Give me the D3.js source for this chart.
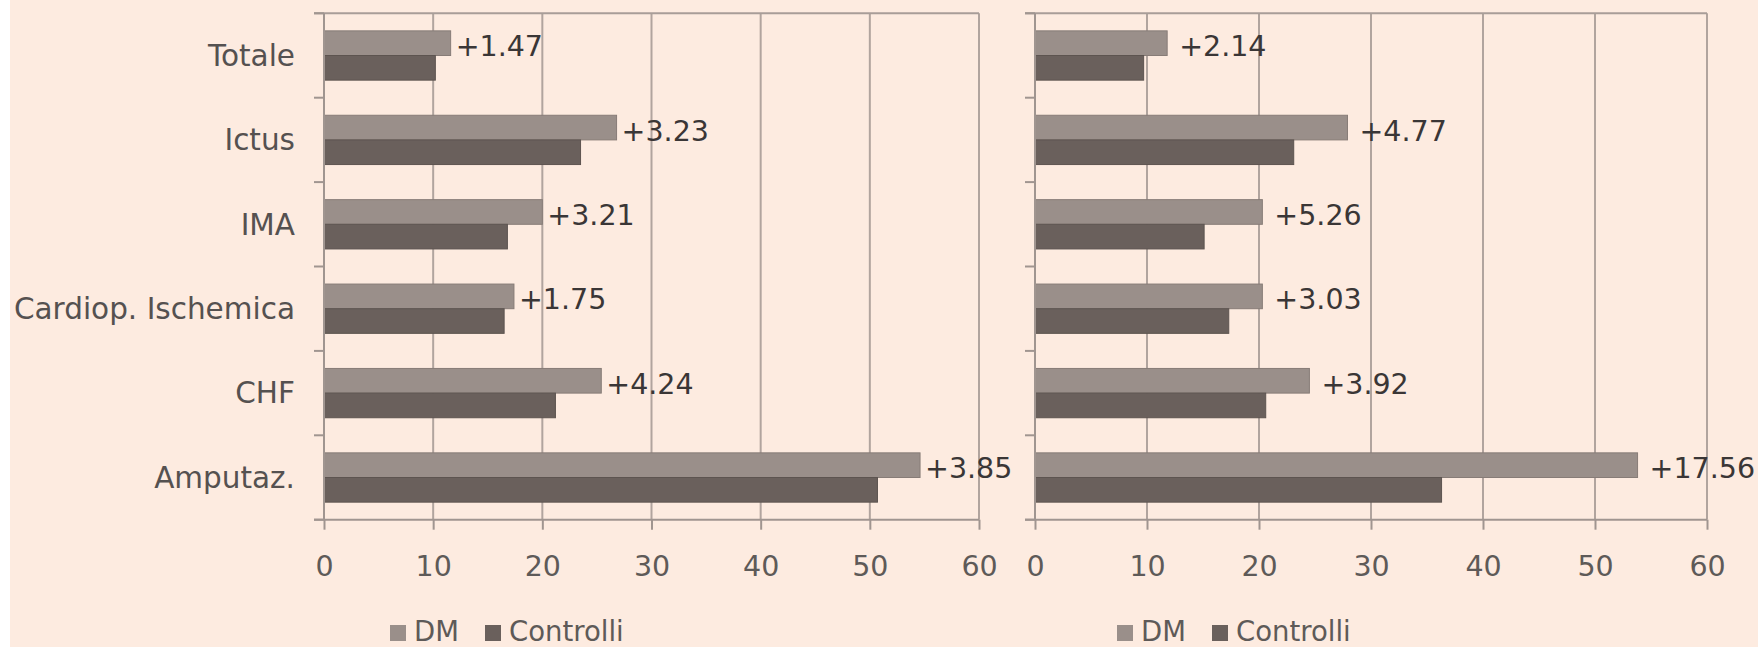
<!DOCTYPE html>
<html>
<head>
<meta charset="utf-8">
<script src="https://cdn.jsdelivr.net/npm/d3@7"></script>
<style>
  html, body { margin: 0; padding: 0; background: #ffffff; }
  svg { display: block; }
  text { font-family: "DejaVu Sans", Verdana, sans-serif; }
</style>
</head>
<body>
<svg id="chart" width="1758" height="647"></svg>
<script>
// Categories (top to bottom)
const categories = ["Totale", "Ictus", "IMA", "Cardiop. Ischemica", "CHF", "Amputaz."];
const seriesNames = ["DM", "Controlli"];

// Left panel values
const dmLeft = [11.6, 26.8, 20.0, 17.4, 25.4, 54.6];
const ctrlLeft = [10.2, 23.5, 16.8, 16.5, 21.2, 50.7];
const diffLeft = ["+1.47", "+3.23", "+3.21", "+1.75", "+4.24", "+3.85"];

// Right panel values
const dmRight = [11.8, 27.9, 20.3, 20.3, 24.5, 53.8];
const ctrlRight = [9.7, 23.1, 15.1, 17.3, 20.6, 36.3];
const diffRight = ["+2.14", "+4.77", "+5.26", "+3.03", "+3.92", "+17.56"];

const xTicks = [0, 10, 20, 30, 40, 50, 60];

const colors = { DM: "#9a8f8a", Controlli: "#6a605c" };
const strokes = { DM: "#877c77", Controlli: "#5d5450" };
const FONT = 28.5;

const svg = d3.select("#chart");

// page background
svg.append("rect")
  .attr("x", 10).attr("y", 0)
  .attr("width", 1748).attr("height", 647)
  .attr("fill", "#fdebe0");

const plotTop = 13.3, plotBottom = 519.7;

const y = d3.scaleBand()
  .domain(categories)
  .range([plotTop, plotBottom])
  .paddingInner(0.416)
  .paddingOuter(0.208);

const sub = d3.scaleBand()
  .domain(seriesNames)
  .range([0, y.bandwidth()]);

function drawPanel(p) {
  const g = svg.append("g");
  const x = d3.scaleLinear().domain([0, 60]).range(p.range);

  // vertical gridlines
  g.selectAll("line.grid")
    .data(xTicks.filter(d => d > 0))
    .join("line")
    .attr("class", "grid")
    .attr("x1", d => x(d)).attr("x2", d => x(d))
    .attr("y1", plotTop).attr("y2", plotBottom)
    .attr("stroke", "#b1a49e").attr("stroke-width", 2);

  // top border
  g.append("line")
    .attr("x1", x(0) - 10).attr("x2", x(60))
    .attr("y1", plotTop).attr("y2", plotTop)
    .attr("stroke", "#a89d98").attr("stroke-width", 2);

  // category boundary ticks
  const bounds = d3.range(categories.length + 1).map(i => plotTop + i * y.step());
  g.selectAll("line.ctick")
    .data(bounds)
    .join("line")
    .attr("class", "ctick")
    .attr("x1", x(0) - 10).attr("x2", x(0))
    .attr("y1", d => d).attr("y2", d => d)
    .attr("stroke", "#a09590").attr("stroke-width", 2);

  // bars
  const rows = categories.map((c, i) => ({ cat: c, DM: p.dm[i], Controlli: p.ctrl[i], diff: p.diff[i] }));
  const groups = g.selectAll("g.row")
    .data(rows)
    .join("g")
    .attr("class", "row")
    .attr("transform", d => `translate(0,${y(d.cat)})`);

  groups.selectAll("rect")
    .data(d => seriesNames.map(s => ({ s, v: d[s] })))
    .join("rect")
    .attr("x", x(0))
    .attr("y", d => sub(d.s))
    .attr("width", d => x(d.v) - x(0))
    .attr("height", sub.bandwidth())
    .attr("fill", d => colors[d.s])
    .attr("stroke", d => strokes[d.s])
    .attr("stroke-width", 1);

  // difference labels
  groups.append("text")
    .attr("x", d => x(d.DM) + p.labelGap)
    .attr("y", sub("DM") + sub.bandwidth() / 2 + 3)
    .attr("dy", "0.35em")
    .attr("font-size", FONT)
    .attr("fill", "#3a3636")
    .text(d => d.diff);

  // left axis line
  g.append("line")
    .attr("x1", x(0)).attr("x2", x(0))
    .attr("y1", plotTop).attr("y2", plotBottom)
    .attr("stroke", "#a09590").attr("stroke-width", 2);

  // bottom axis
  const ax = g.append("g")
    .attr("transform", `translate(0,${plotBottom})`)
    .call(d3.axisBottom(x).tickValues(xTicks).tickSize(10).tickPadding(26).tickFormat(d3.format("d")));
  ax.select(".domain").remove();
  ax.append("line")
    .attr("x1", x(0) - 10).attr("x2", x(60))
    .attr("y1", 0).attr("y2", 0)
    .attr("stroke", "#a09590").attr("stroke-width", 2);
  ax.selectAll(".tick line").attr("stroke", "#a09590").attr("stroke-width", 2);
  ax.selectAll(".tick text")
    .attr("font-size", FONT)
    .attr("font-family", "DejaVu Sans, Verdana, sans-serif")
    .attr("fill", "#5e5a58");

  // category labels
  if (p.showCategories) {
    g.selectAll("text.cat")
      .data(categories)
      .join("text")
      .attr("class", "cat")
      .attr("x", x(0) - 29)
      .attr("y", d => y(d) + y.bandwidth() / 2)
      .attr("dy", "0.35em")
      .attr("text-anchor", "end")
      .attr("font-size", 29.5)
      .attr("fill", "#555150")
      .text(d => d);
  }

  // legend
  const lg = g.append("g").attr("transform", `translate(${p.legendX},625)`);
  seriesNames.forEach((s, i) => {
    const item = lg.append("g").attr("transform", `translate(${i * 95},0)`);
    item.append("rect")
      .attr("width", 16).attr("height", 16)
      .attr("fill", colors[s]);
    item.append("text")
      .attr("x", 24).attr("y", 15.5)
      .attr("font-size", 27.5)
      .attr("fill", "#5e5a58")
      .text(s);
  });
}

drawPanel({ range: [324, 979], dm: dmLeft, ctrl: ctrlLeft, diff: diffLeft, labelGap: 5, legendX: 390, showCategories: true });
drawPanel({ range: [1035, 1707], dm: dmRight, ctrl: ctrlRight, diff: diffRight, labelGap: 12, legendX: 1117, showCategories: false });
</script>
</body>
</html>
